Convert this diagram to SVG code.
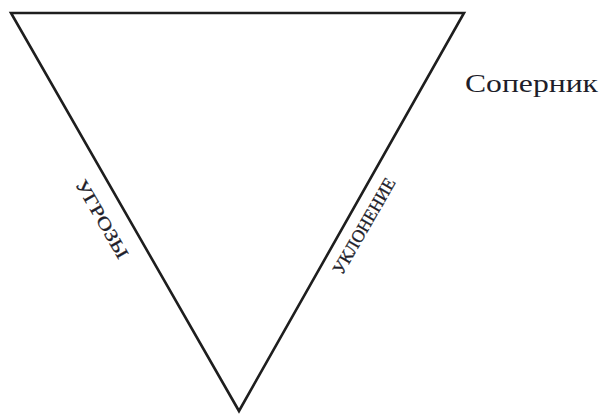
<svg xmlns="http://www.w3.org/2000/svg" width="604" height="415" viewBox="0 0 604 415">
<style>
.edge{fill:none;stroke:#1e1e1e;stroke-width:2.6;stroke-linejoin:miter}
.lbl{font-family:"Liberation Serif","Times New Roman",serif;fill:#1e1e2a}
.edge-lbl{stroke:#1e1e2a;stroke-width:0.3}
</style>
<rect width="604" height="415" fill="#ffffff"/>
<g id="connectors">
<polygon class="edge" points="11,13 464,13 239,411"/>
</g>
<g id="threats">
<text class="lbl edge-lbl" font-size="18" text-anchor="middle" dominant-baseline="central" textLength="88" lengthAdjust="spacingAndGlyphs" transform="translate(102,219) rotate(60)">УГРОЗЫ</text>
</g>
<g id="evasion">
<text class="lbl edge-lbl" font-size="18" text-anchor="middle" dominant-baseline="central" textLength="108" lengthAdjust="spacingAndGlyphs" transform="translate(364,226) rotate(-60)">УКЛОНЕНИЕ</text>
</g>
<g id="rival">
<text class="lbl" x="465" y="92" font-size="25" textLength="133" lengthAdjust="spacingAndGlyphs">Соперник</text>
</g>
</svg>
